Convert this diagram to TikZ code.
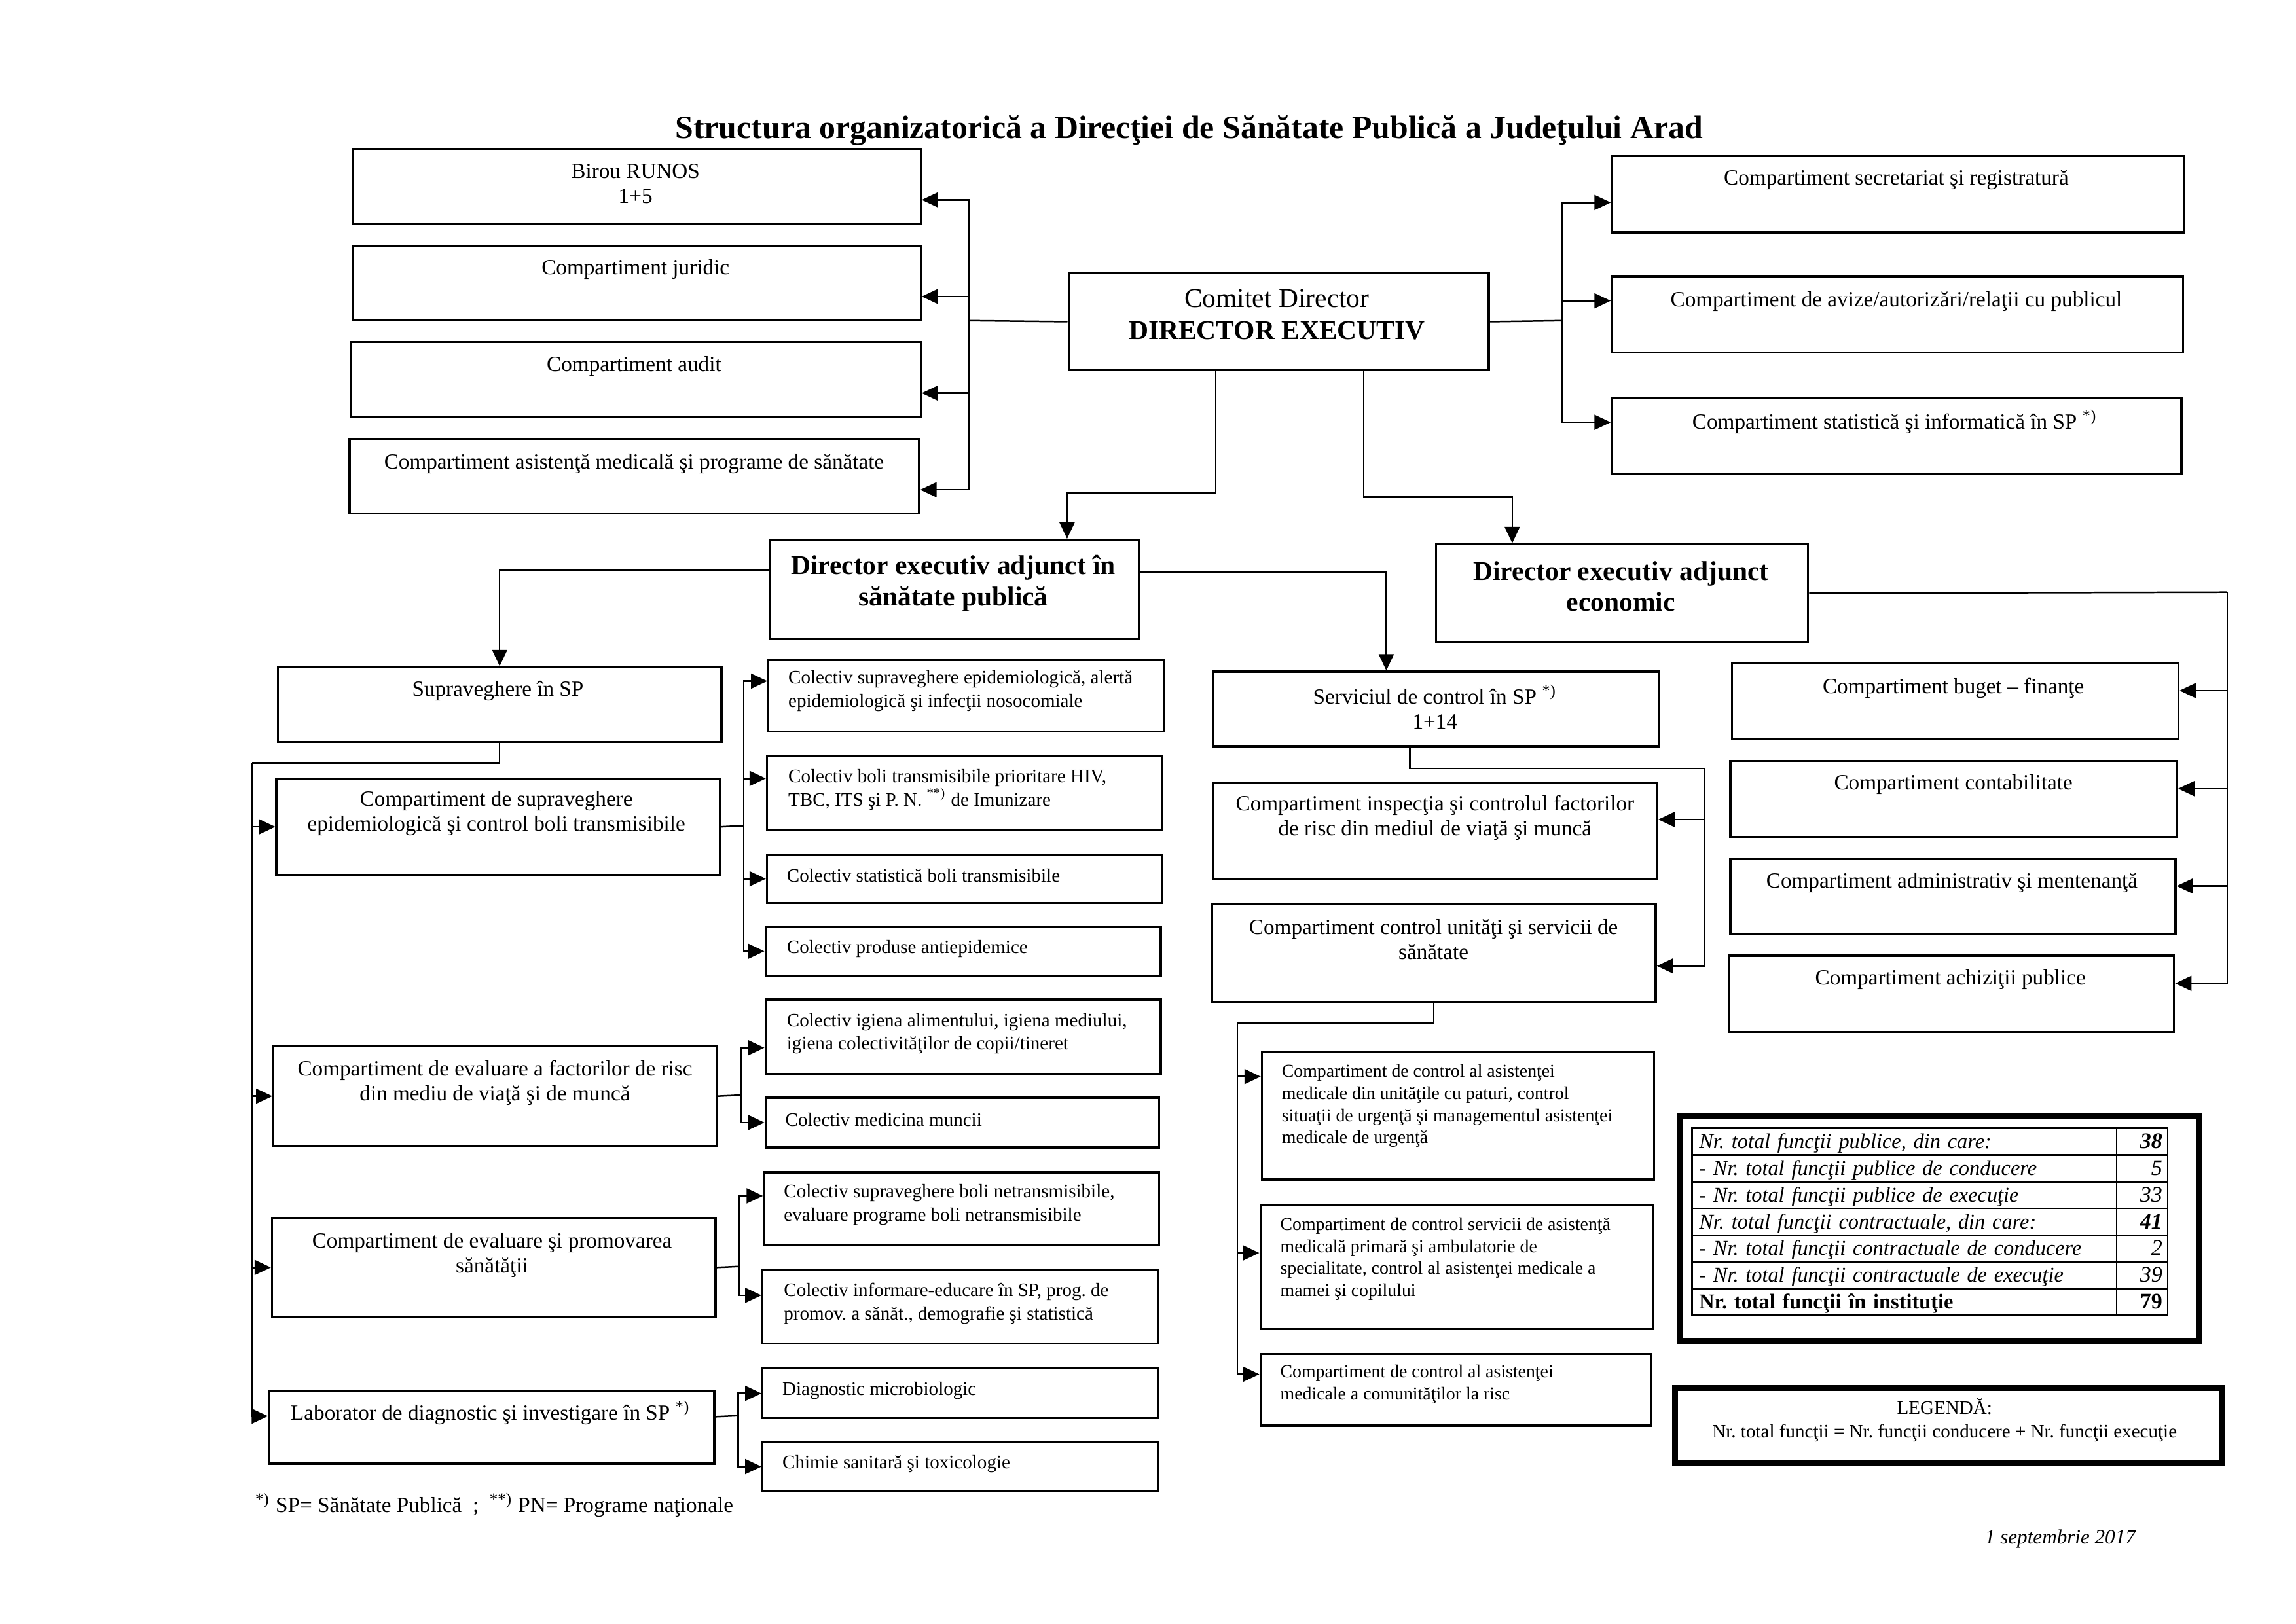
\documentclass[tikz,border=0pt]{standalone}
\usepackage{fontspec}
\setmainfont{Liberation Serif}
\usetikzlibrary{arrows.meta,calc}
\frenchspacing
\newcommand{\pxl}{0.5389pt}
\tikzset{
  box/.style 2 args={draw, line width=0.8pt, anchor=north west, inner sep=0pt,
    minimum width=#1*\pxl, minimum height=#2*\pxl},
  thickbox/.style={line width=2.2pt},
  arr/.style={line width=0.6pt, -{Triangle[length=6pt,width=5.5pt]}},
  conn/.style={line width=0.6pt},
  txt/.style={font=\fontsize{8}{9.2}\selectfont, align=center, inner sep=0pt},
  headtxt/.style={font=\bfseries\fontsize{10}{11.4}\selectfont, align=center, inner sep=0pt},
  coltxt/.style={font=\fontsize{7}{8.6}\selectfont, align=left, anchor=west, inner sep=0pt},
  ctrltxt/.style={font=\fontsize{6.7}{8.1}\selectfont, align=left, anchor=west, inner sep=0pt},
  rowcell/.style={draw, line width=0.6pt, anchor=north west, inner xsep=2.6pt, inner ysep=0pt,
    text width=151pt, align=left, minimum height=18.3*\pxl, text height=1.6ex, text depth=0.5ex,
    font=\fontsize{7.8}{9}\selectfont},
  valcell/.style={rowcell, inner xsep=2pt, text width=14.8pt, align=right, font=\fontsize{8.2}{9}\selectfont},
}
\begin{document}
\begin{tikzpicture}[x=\pxl, y=-\pxl]
\useasboundingbox (0,0) rectangle (1568,1109);

% title
\node[font=\bfseries\fontsize{12}{14}\selectfont, inner sep=0pt] (title) at (812,89)
  {Structura organizatorică a Direcţiei de Sănătate Publică a Judeţului Arad};

% director and top compartments
\node[box={287}{66}] (dir) at (729,186) {};
\node[font=\fontsize{10}{11.9}\selectfont, align=center, inner sep=0pt] (dir-t) at (872,215)
  {Comitet Director\\\textbf{DIRECTOR EXECUTIV}};

\node[box={388}{51}] (runos) at (240,101) {};
\node[box={388}{51}] (jur) at (240,167) {};
\node[box={389}{51}] (audit) at (239,233) {};
\node[box={389}{51}] (asist) at (238,299) {};
\node[txt] (runos-t) at (434,125.5) {Birou RUNOS\\1+5};
\node[txt] (jur-t) at (434,184) {Compartiment juridic};
\node[txt] (audit-t) at (433,250) {Compartiment audit};
\node[txt] (asist-t) at (433,317) {Compartiment asistenţă medicală şi programe de sănătate};

\node[box={391}{52}] (secr) at (1100,106) {};
\node[box={390}{52}] (aviz) at (1100,188) {};
\node[box={389}{52}] (stat) at (1100,271) {};
\node[txt] (secr-t) at (1295,123) {Compartiment secretariat şi registratură};
\node[txt] (aviz-t) at (1295,206) {Compartiment de avize/autorizări/relaţii cu publicul};
\node[txt] (stat-t) at (1294,288) {Compartiment statistică şi informatică în SP \textsuperscript{*)}};

% deputy directors
\node[box={252}{68}] (dsp) at (525,368) {};
\node[box={254}{67}] (dec) at (980,371) {};
\node[headtxt] (dsp-t) at (651,398.5) {Director executiv adjunct în\\sănătate publică};
\node[headtxt] (dec-t) at (1107,400.5) {Director executiv adjunct\\economic};

% public health branch
\node[box={303}{51}] (sup) at (189,455) {};
\node[box={303}{66}] (csup) at (188,531) {};
\node[box={303}{68}] (cevf) at (186,714) {};
\node[box={303}{68}] (cevp) at (185,831) {};
\node[box={304}{50}] (lab) at (183,949) {};
\node[txt] (sup-t) at (340,472) {Supraveghere în SP};
\node[txt] (csup-t) at (339,555.5) {Compartiment de supraveghere\\epidemiologică şi control boli transmisibile};
\node[txt] (cevf-t) at (338,739.5) {Compartiment de evaluare a factorilor de risc\\din mediu de viaţă şi de muncă};
\node[txt] (cevp-t) at (336,857.5) {Compartiment de evaluare şi promovarea\\sănătăţii};
\node[txt] (lab-t) at (335,965) {Laborator de diagnostic şi investigare în SP \textsuperscript{*)}};

\node[box={270}{49}] (col1) at (524,450) {};
\node[box={270}{50}] (col2) at (523,516) {};
\node[box={270}{33}] (col3) at (523,583) {};
\node[box={270}{34}] (col4) at (522,632) {};
\node[box={270}{51}] (col5) at (522,682) {};
\node[box={269}{34}] (col6) at (522,749) {};
\node[box={270}{50}] (col7) at (521,800) {};
\node[box={270}{50}] (col8) at (520,867) {};
\node[box={270}{34}] (diag) at (520,934) {};
\node[box={270}{34}] (chim) at (520,984) {};
\node[coltxt] (col1-t) at (538,472) {Colectiv supraveghere epidemiologică, alertă\\epidemiologică şi infecţii nosocomiale};
\node[coltxt] (col2-t) at (538,539.5) {Colectiv boli transmisibile prioritare HIV,\\TBC, ITS şi P. N. \textsuperscript{**)} de Imunizare};
\node[coltxt] (col3-t) at (537,598) {Colectiv statistică boli transmisibile};
\node[coltxt] (col4-t) at (537,648) {Colectiv produse antiepidemice};
\node[coltxt] (col5-t) at (537,706) {Colectiv igiena alimentului, igiena mediului,\\igiena colectivităţilor de copii/tineret};
\node[coltxt] (col6-t) at (536,765) {Colectiv medicina muncii};
\node[coltxt] (col7-t) at (535,823) {Colectiv supraveghere boli netransmisibile,\\evaluare programe boli netransmisibile};
\node[coltxt] (col8-t) at (535,890.5) {Colectiv informare-educare în SP, prog. de\\promov. a sănăt., demografie şi statistică};
\node[coltxt] (diag-t) at (534,950) {Diagnostic microbiologic};
\node[coltxt] (chim-t) at (534,1000) {Chimie sanitară şi toxicologie};

% control service
\node[box={304}{51}] (serv) at (828,458) {};
\node[box={303}{66}] (insp) at (828,534) {};
\node[box={303}{67}] (cunit) at (827,617) {};
\node[txt] (serv-t) at (980,483) {Serviciul de control în SP \textsuperscript{*)}\\1+14};
\node[txt] (insp-t) at (980,558.5) {Compartiment inspecţia şi controlul factorilor\\de risc din mediul de viaţă şi muncă};
\node[txt] (cunit-t) at (979,641.5) {Compartiment control unităţi şi servicii de\\sănătate};

\node[box={268}{87}] (ctrl1) at (861,718) {};
\node[box={268}{85}] (ctrl2) at (860,822) {};
\node[box={267}{49}] (ctrl3) at (860,924) {};
\node[ctrltxt] (ctrl1-t) at (875,755.5) {Compartiment de control al asistenţei\\medicale din unităţile cu paturi, control\\situaţii de urgenţă şi managementul asistenţei\\medicale de urgenţă};
\node[ctrltxt] (ctrl2-t) at (874,860) {Compartiment de control servicii de asistenţă\\medicală primară şi ambulatorie de\\specialitate, control al asistenţei medicale a\\mamei şi copilului};
\node[ctrltxt] (ctrl3-t) at (874,945.5) {Compartiment de control al asistenţei\\medicale a comunităţilor la risc};

% economic branch
\node[box={305}{52}] (buget) at (1182,452) {};
\node[box={305}{52}] (contab) at (1181,519) {};
\node[box={304}{51}] (admin) at (1181,586) {};
\node[box={304}{52}] (achiz) at (1180,652) {};
\node[txt] (buget-t) at (1334,470) {Compartiment buget – finanţe};
\node[txt] (contab-t) at (1334,536) {Compartiment contabilitate};
\node[txt] (admin-t) at (1333,603) {Compartiment administrativ şi mentenanţă};
\node[txt] (achiz-t) at (1332,669) {Compartiment achiziţii publice};

% totals table
\node[box={355}{154}, thickbox] (tblbox) at (1145,760) {};
\node[rowcell] (r1) at (1155,770) {\itshape Nr. total funcţii publice, din care:};
\node[rowcell] (r2) at (1155,788.3) {\itshape - Nr. total funcţii publice de conducere};
\node[rowcell] (r3) at (1155,806.6) {\itshape - Nr. total funcţii publice de execuţie};
\node[rowcell] (r4) at (1155,824.9) {\itshape Nr. total funcţii contractuale, din care:};
\node[rowcell] (r5) at (1155,843.1) {\itshape - Nr. total funcţii contractuale de conducere};
\node[rowcell] (r6) at (1155,861.4) {\itshape - Nr. total funcţii contractuale de execuţie};
\node[rowcell] (r7) at (1155,879.7) {\bfseries Nr. total funcţii în instituţie};
\node[valcell] (v1) at (1445,770) {\bfseries\itshape 38};
\node[valcell] (v2) at (1445,788.3) {\itshape 5};
\node[valcell] (v3) at (1445,806.6) {\itshape 33};
\node[valcell] (v4) at (1445,824.9) {\bfseries\itshape 41};
\node[valcell] (v5) at (1445,843.1) {\itshape 2};
\node[valcell] (v6) at (1445,861.4) {\itshape 39};
\node[valcell] (v7) at (1445,879.7) {\bfseries 79};

% legend, notes
\node[box={373}{51}, thickbox] (legend) at (1142,946) {};
\node[font=\fontsize{7}{8.6}\selectfont, align=center, inner sep=0pt] (legend-t) at (1328,970)
  {LEGENDĂ:\\Nr. total funcţii = Nr. funcţii conducere + Nr. funcţii execuţie};
\node[font=\fontsize{8}{9.2}\selectfont, anchor=west, inner sep=0pt] (note) at (174,1028)
  {\textsuperscript{*)} SP= Sănătate Publică \ ; \ \textsuperscript{**)} PN= Programe naţionale};
\node[font=\itshape\fontsize{7.5}{9}\selectfont, inner sep=0pt] (date) at (1407,1051) {1 septembrie 2017};

% connectors
\coordinate (busl) at (662,219);
\coordinate (busr) at (1067,219);
\draw[conn] (dir.west) -- (busl);
\draw[arr] (busl) |- ([yshift=-5pt]runos.east);
\draw[arr] (busl) |- ([yshift=-5pt]jur.east);
\draw[arr] (busl) |- ([yshift=-5pt]audit.east);
\draw[arr] (busl) |- ([yshift=-5pt]asist.east);
\draw[conn] (dir.east) -- (busr);
\draw[arr] (busr) |- ([yshift=-3pt]secr.west);
\draw[arr] (busr) |- ([yshift=5pt]aviz.west);
\draw[arr] (busr) |- ([yshift=5pt]stat.west);

\draw[arr] ($(dir.south)+(-43,0)$) -- ++(0,83) -| ($(dsp.north)+(77,0)$);
\draw[arr] ($(dir.south)+(58,0)$) -- ++(0,86) -| ($(dec.north)+(-75,0)$);

\draw[arr] ($(dsp.west)+(0,-13)$) -| (sup.north);
\draw[arr] ($(dsp.east)+(0,-12)$) -| ($(serv.north)+(-34,0)$);

\coordinate (buse) at (1521,404.5);
\draw[conn] (dec.east) -- (buse);
\draw[arr] (buse) |- ([yshift=3.8pt]buget.east);
\draw[arr] (buse) |- ([yshift=3.8pt]contab.east);
\draw[arr] (buse) |- ([yshift=3.8pt]admin.east);
\draw[arr] (buse) |- ([yshift=3.8pt]achiz.east);

\coordinate (buss) at (172,521);
\draw[conn] (sup.south) |- (buss);
\draw[arr] (buss) |- (csup.west);
\draw[arr] (buss) |- (cevf.west);
\draw[arr] (buss) |- (cevp.west);
\draw[arr] (buss) |- ([yshift=4pt]lab.west);

\coordinate (bc1) at (508,564);
\draw[conn] (csup.east) -- (bc1);
\draw[arr] (bc1) |- ([yshift=5.4pt]col1.west);
\draw[arr] (bc1) |- ([yshift=5.4pt]col2.west);
\draw[arr] (bc1) |- (col3.west);
\draw[arr] (bc1) |- (col4.west);

\coordinate (bc2) at (506,748);
\draw[conn] (cevf.east) -- (bc2);
\draw[arr] (bc2) |- ([yshift=-4pt]col5.west);
\draw[arr] (bc2) |- (col6.west);

\coordinate (bc3) at (505,865);
\draw[conn] (cevp.east) -- (bc3);
\draw[arr] (bc3) |- ([yshift=4.8pt]col7.west);
\draw[arr] (bc3) |- ([yshift=4.3pt]col8.west);

\coordinate (bc4) at (504,967);
\draw[conn] ([yshift=3.8pt]lab.east) -- (bc4);
\draw[arr] (bc4) |- (diag.west);
\draw[arr] (bc4) |- (chim.west);

\coordinate (bsv) at (1164,525);
\draw[conn] ($(serv.south)+(-18,0)$) |- (bsv);
\draw[arr] (bsv) |- ([yshift=4.3pt]insp.east);
\draw[arr] (bsv) |- ([yshift=-4.6pt]cunit.east);

\coordinate (bcu) at (845,699);
\draw[conn] (cunit.south) |- (bcu);
\draw[arr] (bcu) |- ([yshift=14.5pt]ctrl1.west);
\draw[arr] (bcu) |- ([yshift=5.1pt]ctrl2.west);
\draw[arr] (bcu) |- ([yshift=5.7pt]ctrl3.west);
\end{tikzpicture}
\end{document}
